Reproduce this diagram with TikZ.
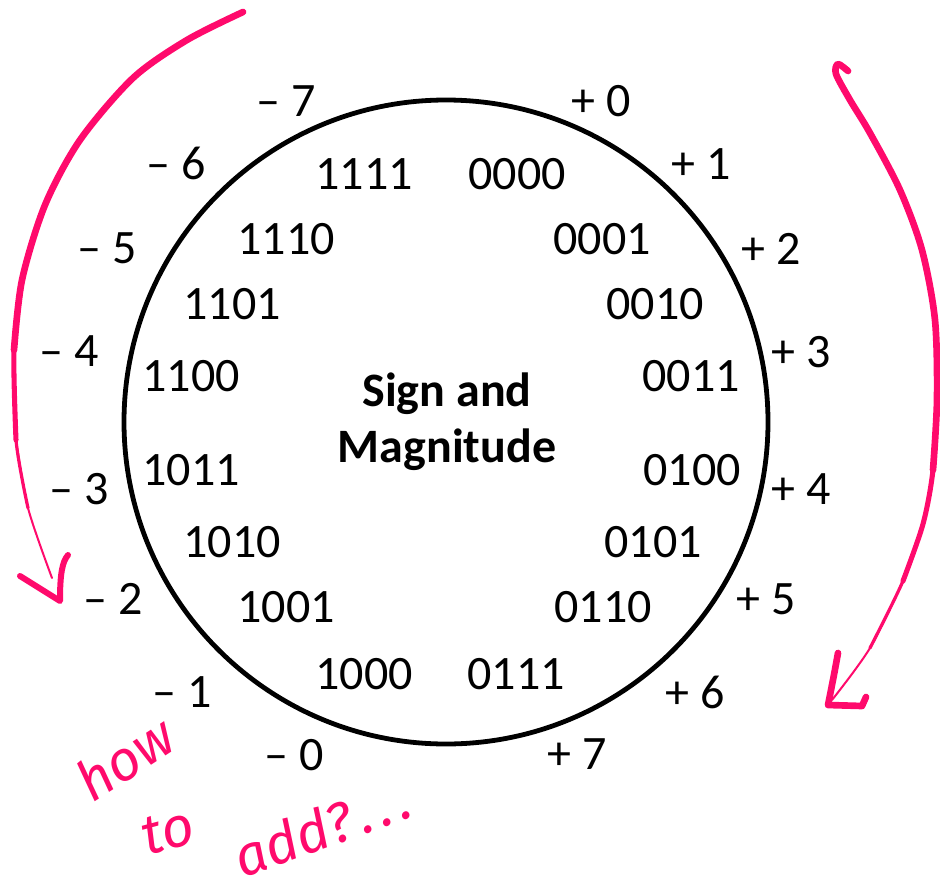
\documentclass[tikz,border=0pt]{standalone}
\usepackage{fontspec}
\setmainfont{Carlito}
\newfontfamily\handfont{Fira Sans}
\definecolor{penpink}{HTML}{FF0A6C}
\begin{document}
\begin{tikzpicture}[x=0.75pt,y=-0.75pt,
  lbl/.style={font=\fontsize{36}{42}\selectfont, inner sep=0pt, anchor=center},
  pen/.style={draw=penpink, line cap=round, line join=round},
  hand/.style={font=\handfont\itshape\fontsize{42}{48}\selectfont, text=penpink, inner sep=0pt}]
\useasboundingbox (0,0) rectangle (940,882);
% ring
\node[circle, draw, line width=3.6pt, minimum size=483pt, inner sep=0pt] (ring) at (446,422) {};
\node[font=\bfseries\fontsize{36}{42}\selectfont, align=center, inner sep=0pt] (title) at (447,422) {Sign and\\Magnitude};
% outer labels
\node[lbl] (m7) at (286,101) {– 7};
\node[lbl] (m6) at (176,163) {– 6};
\node[lbl] (m5) at (107,248) {– 5};
\node[lbl] (m4) at (69,351) {– 4};
\node[lbl] (m3) at (79,489) {– 3};
\node[lbl] (m2) at (113,599) {– 2};
\node[lbl] (m1) at (182,692) {– 1};
\node[lbl] (m0) at (294,755) {– 0};
\node[lbl] (p0) at (601,101) {+ 0};
\node[lbl] (p1) at (701,164) {+ 1};
\node[lbl] (p2) at (771,249) {+ 2};
\node[lbl] (p3) at (801,352) {+ 3};
\node[lbl] (p4) at (801,489) {+ 4};
\node[lbl] (p5) at (766,599) {+ 5};
\node[lbl] (p6) at (695,692) {+ 6};
\node[lbl] (p7) at (577,754) {+ 7};
% inner codes
\node[lbl] (b1111) at (364,174) {1111};
\node[lbl] (b1110) at (286,239) {1110};
\node[lbl] (b1101) at (232,304) {1101};
\node[lbl] (b1100) at (191,376) {1100};
\node[lbl] (b1011) at (191,470) {1011};
\node[lbl] (b1010) at (232,542) {1010};
\node[lbl] (b1001) at (286,607) {1001};
\node[lbl] (b1000) at (364,674) {1000};
\node[lbl] (b0000) at (517,174) {0000};
\node[lbl] (b0001) at (602,239) {0001};
\node[lbl] (b0010) at (655,304) {0010};
\node[lbl] (b0011) at (691,376) {0011};
\node[lbl] (b0100) at (692,470) {0100};
\node[lbl] (b0101) at (653,542) {0101};
\node[lbl] (b0110) at (603,607) {0110};
\node[lbl] (b0111) at (516,674) {0111};
% left pink arrow
\draw[pen, line width=5pt] plot[smooth] coordinates {(243,12) (187,40) (133,78) (80,140) (45,205) (22,280) (14,350)};
\draw[pen, line width=3.8pt] plot[smooth] coordinates {(22,280) (14,350) (16,440)};
\draw[pen, line width=2.4pt] plot[smooth] coordinates {(14,350) (16,440) (28,508)};
\draw[pen, line width=1.5pt] plot[smooth] coordinates {(16,440) (28,508) (52,578)};
\draw[pen, line width=4.5pt] (20,576) .. controls (40,588) .. (60,601) .. controls (60,575) and (62,562) .. (68,555);
% right pink arrow
\draw[pen, line width=5pt] plot[smooth] coordinates {(848,71) (838,64) (836,74) (850,100) (870,133) (900,190) (922,250) (935,320) (937,400) (933,470)};
\draw[pen, line width=3.8pt] plot[smooth] coordinates {(937,400) (933,470) (923,524) (903,581)};
\draw[pen, line width=2.4pt] plot[smooth] coordinates {(923,524) (903,581) (870,648)};
\draw[pen, line width=1.5pt] plot[smooth] coordinates {(903,581) (870,648) (832,700)};
\draw[pen, line width=5pt] (838,653) .. controls (834,675) .. (828,705) -- (862,706) -- (866,697);
% handwriting
\node[hand, rotate=33] (how) at (125,758) {how};
\node[hand, rotate=15] (to) at (168,831) {to};
\node[hand, rotate=20] (add) at (322,828) {add?\hspace{5pt}.\hspace{5pt}.\hspace{5pt}.};
\end{tikzpicture}
\end{document}
